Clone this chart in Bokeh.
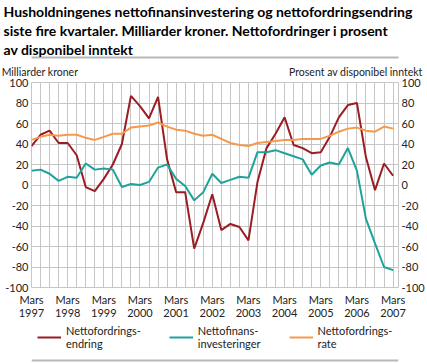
from bokeh.plotting import figure
from bokeh.layouts import column
from bokeh.models import (ColumnDataSource, LinearAxis, Range1d, FixedTicker, Legend,
                          LegendItem, Title)
from bokeh.embed import file_html
from bokeh.resources import INLINE

# ---------------- data ----------------
quarter_index = list(range(41))  # Mars 1997 ... Mars 2007, quarterly
tick_years = ["1997", "1998", "1999", "2000", "2001", "2002", "2003", "2004", "2005", "2006", "2007"]
tick_month = "Mars"
y_ticks = list(range(-100, 101, 20))

nettofordringsendring = [38, 49, 53, 41, 41, 29, -2, -6, 6, 20, 40, 87, 77, 65, 86, 25, -7, -7, -62, -37,
                         -9, -44, -38, -41, -54, 3, 36, 50, 66, 39, 36, 31, 32, 47, 66, 78, 80, 27, -5, 21, 9]
nettofinansinvesteringer = [14, 15, 11, 4, 8, 7, 21, 15, 16, 15, -2, 1, 0, 3, 17, 20, 6, -1, -15, -7,
                            11, 2, 5, 8, 7, 32, 32, 34, 31, 28, 25, 10, 19, 22, 20, 36, 14, -33, -57, -80, -83]
nettofordringsrate = [44, 47, 49, 48, 49, 49, 46, 44, 47, 50, 50, 56, 57, 58, 61, 57, 54, 53, 50, 48,
                      49, 45, 41, 39, 38, 41, 42, 43, 44, 44, 45, 45, 45, 48, 52, 55, 56, 53, 52, 57, 55]

series_names = ["Nettofordrings-\nendring", "Nettofinans-\ninvesteringer", "Nettofordrings-\nrate"]
colors = ["#9b1c22", "#1ea39c", "#f7994a"]

title_lines = ["Husholdningenes nettofinansinvestering og nettofordringsendring",
               "siste fire kvartaler. Milliarder kroner. Nettofordringer i prosent",
               "av disponibel inntekt"]
left_title = "Milliarder kroner"
right_title = "Prosent av disponibel inntekt"

FONT = "Lato"
TXT = "#222222"
GRID = "#c6c6c6"
SEP = "#b8b8b8"
W = 427
FL, FR = 31, 401   # frame left / right (window px)
PH, FH = 322, 41   # chart height, footer (legend) height

src = ColumnDataSource(dict(q=quarter_index, a=nettofordringsendring,
                            b=nettofinansinvesteringer, c=nettofordringsrate))

p = figure(width=W, height=PH, output_backend="svg", toolbar_location=None, title=None,
           x_range=Range1d(0, 40.6), y_range=Range1d(-100, 100),
           min_border_left=FL, min_border_right=W - FR, min_border_top=81, min_border_bottom=34)
p.extra_y_ranges = {"pct": Range1d(-100, 100)}
p.extra_x_ranges = {"px": Range1d(FL, FR)}
p.outline_line_color = GRID

yt = FixedTicker(ticks=y_ticks)
ylabels = {v: str(v) for v in y_ticks}
p.yaxis.ticker = yt
p.xaxis.ticker = FixedTicker(ticks=quarter_index[::4])
p.xaxis.major_label_overrides = {i * 4: f"{tick_month}\n{y}" for i, y in enumerate(tick_years)}
p.xgrid.ticker = FixedTicker(ticks=quarter_index)
p.ygrid.ticker = yt
for g in (p.xgrid, p.ygrid):
    g.grid_line_color = GRID
    g.grid_line_width = 1

right_axis = LinearAxis(y_range_name="pct", ticker=yt)
p.add_layout(right_axis, "right")

for ax in (p.xaxis[0], p.yaxis[0], right_axis):
    ax.axis_line_color = None
    ax.major_tick_line_color = None
    ax.minor_tick_line_color = None
    ax.major_tick_out = 0
    ax.major_tick_in = 0
    ax.major_label_text_font = FONT
    ax.major_label_text_font_size = "11px"
    ax.major_label_text_color = TXT
    ax.major_label_standoff = 3
p.yaxis[0].major_label_overrides = ylabels
right_axis.major_label_overrides = ylabels
p.xaxis.major_label_standoff = 5
p.xaxis.major_label_text_line_height = 1.05

r1 = p.line("q", "a", source=src, line_color=colors[0], line_width=2)
r2 = p.line("q", "b", source=src, line_color=colors[1], line_width=2)
r3 = p.line("q", "c", source=src, line_color=colors[2], line_width=2, y_range_name="pct")


# ---- above: axis titles row, spacer, separator, title lines ----
def bare_axis(fig, loc):
    ax = LinearAxis(x_range_name="px", ticker=FixedTicker(ticks=[]))
    ax.axis_line_color = None
    ax.major_tick_line_color = None
    ax.minor_tick_line_color = None
    ax.major_tick_out = 0
    ax.major_tick_in = 0
    fig.add_layout(ax, loc)
    return ax


titles_axis = bare_axis(p, "above")
titles_axis.ticker = FixedTicker(ticks=[39.5, 358])
titles_axis.major_label_overrides = {39.5: left_title, 358: right_title}
titles_axis.major_label_text_font = FONT
titles_axis.major_label_text_font_size = "10.5px"
titles_axis.major_label_text_color = TXT
titles_axis.major_label_standoff = 5

p.add_layout(Title(text=" ", text_font_size="3px", standoff=0), "above")
sep_top = bare_axis(p, "above")
sep_top.axis_line_color = SEP
sep_top.axis_line_width = 2

for t in reversed(title_lines):
    p.add_layout(Title(text=t, align="left", offset=3 - FL, standoff=0,
                       text_font=FONT, text_font_size="14px", text_font_style="bold",
                       text_color="#000000"),
                 "above")

# ---- footer: legend and bottom separator ----
footer = figure(width=W, height=FH, output_backend="svg", toolbar_location=None, title=None,
                x_range=Range1d(0, 1), y_range=Range1d(0, FH),
                min_border_left=FL, min_border_right=20, min_border_top=0, min_border_bottom=0,
                x_axis_location=None, y_axis_location=None)
footer.grid.visible = False
footer.outline_line_color = None
footer.extra_y_ranges = {"hidden": Range1d(1000, 1001)}
# legend proxies: same series, drawn on a range where they stay out of view
k1 = footer.line(quarter_index, nettofordringsendring, line_color=colors[0], line_width=2,
                 y_range_name="hidden")
k2 = footer.line(quarter_index, nettofinansinvesteringer, line_color=colors[1], line_width=2,
                 y_range_name="hidden")
k3 = footer.line(quarter_index, nettofordringsrate, line_color=colors[2], line_width=2,
                 y_range_name="hidden")
legend = Legend(items=[LegendItem(label=series_names[0], renderers=[k1]),
                       LegendItem(label=series_names[1], renderers=[k2]),
                       LegendItem(label=series_names[2], renderers=[k3])],
                orientation="horizontal", location=(6, 13),
                label_text_font=FONT, label_text_font_size="11px", label_text_color=TXT,
                label_text_line_height=1.1,
                glyph_width=24, glyph_height=12, label_standoff=5, spacing=28, padding=0, margin=0,
                border_line_color=None, background_fill_alpha=0)
footer.add_layout(legend, "center")
footer.segment(x0=[0], y0=[3], x1=[1], y1=[3], line_color=SEP, line_width=2)

layout = column(p, footer, spacing=0)
open("out.html", "w").write(file_html(layout, INLINE))
